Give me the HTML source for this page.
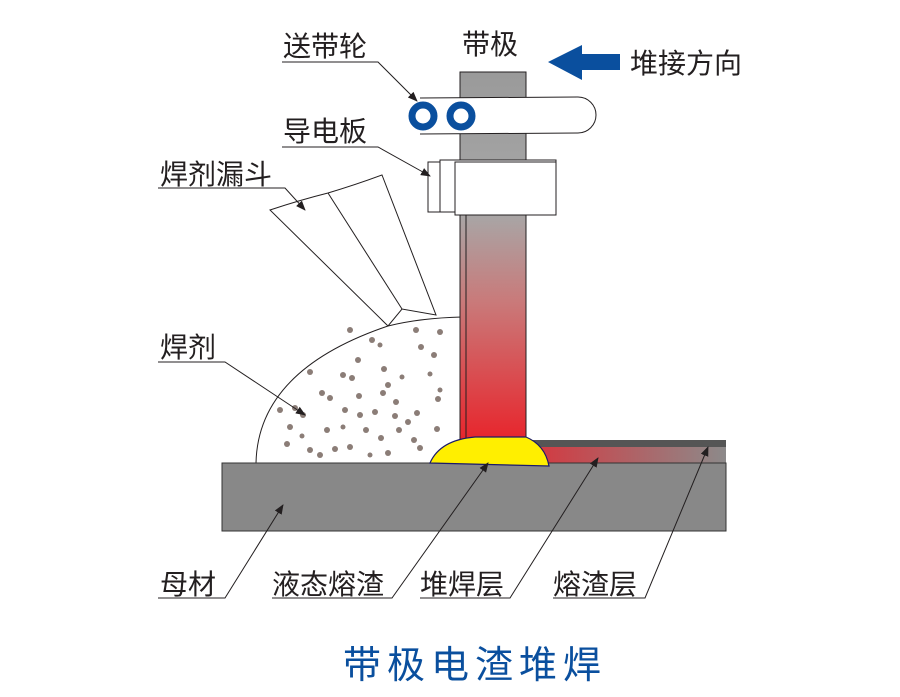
<!DOCTYPE html>
<html><head><meta charset="utf-8"><style>
html,body{margin:0;padding:0;background:#fff;}
svg{display:block;}
text{font-family:"Liberation Sans","Noto Sans CJK SC",sans-serif;fill:#231f20;}
</style></head><body>
<svg width="900" height="697" viewBox="0 0 900 697" xmlns="http://www.w3.org/2000/svg">
<defs>
<linearGradient id="strip" x1="0" y1="0" x2="0" y2="1">
<stop offset="0" stop-color="#9a9a9a"/><stop offset="0.38" stop-color="#a7a7a7"/>
<stop offset="0.62" stop-color="#c97a7a"/><stop offset="1" stop-color="#e8242b"/>
</linearGradient>
<linearGradient id="slag" x1="0" y1="0" x2="1" y2="0">
<stop offset="0" stop-color="#d7353d"/><stop offset="1" stop-color="#8c8a8a"/>
</linearGradient>
<marker id="ah" markerWidth="10" markerHeight="8" refX="9" refY="4" orient="auto" markerUnits="userSpaceOnUse">
<path d="M0,0 L10,4 L0,8 Z" fill="#231f20"/></marker>
</defs>

<path d="M270,210 Q300,200 328,193 Q355,185 382,175 L436,315 L402,309 L388,326 Z" fill="#fff" stroke="#231f20" stroke-width="1"/>
<path d="M328,193 L402,309" fill="none" stroke="#231f20" stroke-width="1"/>

<path d="M256,463 Q258,370 388,326 Q420,318 462,317 L462,463 Z" fill="#fff" stroke="#231f20" stroke-width="1"/>
<g fill="#8b7d77">
<circle cx="350" cy="330" r="3"/><circle cx="372" cy="340" r="3"/><circle cx="416" cy="330" r="3"/><circle cx="440" cy="332" r="3"/>
<circle cx="380" cy="345" r="2.5"/><circle cx="421" cy="347" r="3"/><circle cx="434" cy="355" r="3"/><circle cx="310" cy="372" r="3"/>
<circle cx="343" cy="375" r="3"/><circle cx="352" cy="378" r="3"/><circle cx="388" cy="385" r="3"/><circle cx="402" cy="377" r="2.5"/>
<circle cx="322" cy="393" r="3"/><circle cx="330" cy="398" r="3"/><circle cx="359" cy="396" r="3"/><circle cx="383" cy="393" r="3"/>
<circle cx="396" cy="402" r="3"/><circle cx="430" cy="374" r="2.5"/><circle cx="438" cy="399" r="3"/><circle cx="295" cy="408" r="3"/>
<circle cx="303" cy="415" r="3"/><circle cx="345" cy="410" r="3"/><circle cx="360" cy="415" r="3"/><circle cx="375" cy="412" r="3"/>
<circle cx="395" cy="416" r="3"/><circle cx="408" cy="422" r="3"/><circle cx="417" cy="413" r="3"/><circle cx="327" cy="430" r="3"/>
<circle cx="343" cy="427" r="2.5"/><circle cx="366" cy="430" r="3"/><circle cx="381" cy="438" r="3"/><circle cx="399" cy="430" r="3"/>
<circle cx="414" cy="440" r="3"/><circle cx="437" cy="429" r="3"/><circle cx="287" cy="444" r="3"/><circle cx="310" cy="450" r="3"/>
<circle cx="320" cy="455" r="3"/><circle cx="335" cy="449" r="3"/><circle cx="350" cy="447" r="3"/><circle cx="370" cy="455" r="2.5"/>
<circle cx="388" cy="453" r="3"/><circle cx="420" cy="448" r="3"/><circle cx="302" cy="436" r="2.5"/><circle cx="280" cy="410" r="3"/>
<circle cx="290" cy="427" r="3"/><circle cx="384" cy="369" r="3"/><circle cx="358" cy="360" r="3"/><circle cx="440" cy="390" r="2.5"/>
</g>

<rect x="460" y="72" width="66" height="370" fill="url(#strip)" stroke="#231f20" stroke-width="1"/>
<line x1="466" y1="215" x2="466" y2="440" stroke="#231f20" stroke-width="1"/>

<path d="M420,98 L578,97 A18,18 0 0 1 578,133 L420,134" fill="#fff" stroke="#231f20" stroke-width="1"/>
<circle cx="423" cy="116" r="11" fill="#fff" stroke="#0a4f9e" stroke-width="7"/>
<circle cx="461" cy="116" r="11" fill="#fff" stroke="#0a4f9e" stroke-width="7"/>

<rect x="428" y="162" width="14" height="50" fill="#fff" stroke="#231f20"/>
<rect x="440" y="160" width="116" height="52" fill="#fff" stroke="#231f20"/>
<rect x="455" y="162" width="101" height="53" fill="#fff" stroke="#231f20"/>

<rect x="526" y="440" width="200" height="24" fill="url(#slag)"/>
<rect x="526" y="440" width="200" height="7" fill="#555"/>
<rect x="222" y="463" width="504" height="68" fill="#888" stroke="#333" stroke-width="1"/>
<path d="M430,463 Q440,440 475,437 L526,437 Q545,445 549,466 Z" fill="#ffef00" stroke="#1a1a6a" stroke-width="1.2"/>

<path d="M548,62 L582,45 L582,54 L620,54 L620,70 L582,70 L582,80 Z" fill="#0a4f9e"/>

<g font-size="28">
<text x="283" y="56">送带轮</text>
<text x="462" y="54">带极</text>
<text x="630" y="73">堆接方向</text>
<text x="283" y="141">导电板</text>
<text x="160" y="184">焊剂漏斗</text>
<text x="160" y="357">焊剂</text>
<text x="160" y="594">母材</text>
<text x="272" y="594">液态熔渣</text>
<text x="420" y="594">堆焊层</text>
<text x="553" y="594">熔渣层</text>
</g>
<g fill="none" stroke="#231f20" stroke-width="1">
<path d="M282,62 L378,62 L417,101" marker-end="url(#ah)"/>
<path d="M282,147 L378,147 L430,176" marker-end="url(#ah)"/>
<path d="M158,188 L285,188 L305,210" marker-end="url(#ah)"/>
<path d="M158,362 L225,362 L305,415" marker-end="url(#ah)"/>
<path d="M158,598 L225,598 L283,505" marker-end="url(#ah)"/>
<path d="M272,598 L392,598 L488,463" marker-end="url(#ah)"/>
<path d="M420,598 L510,598 L598,458" marker-end="url(#ah)"/>
<path d="M553,598 L645,598 L708,447" marker-end="url(#ah)"/>
</g>

<text x="343" y="678" font-size="38" letter-spacing="6" style="fill:#0a4f9e">带极电渣堆焊</text>
</svg>
</body></html>
